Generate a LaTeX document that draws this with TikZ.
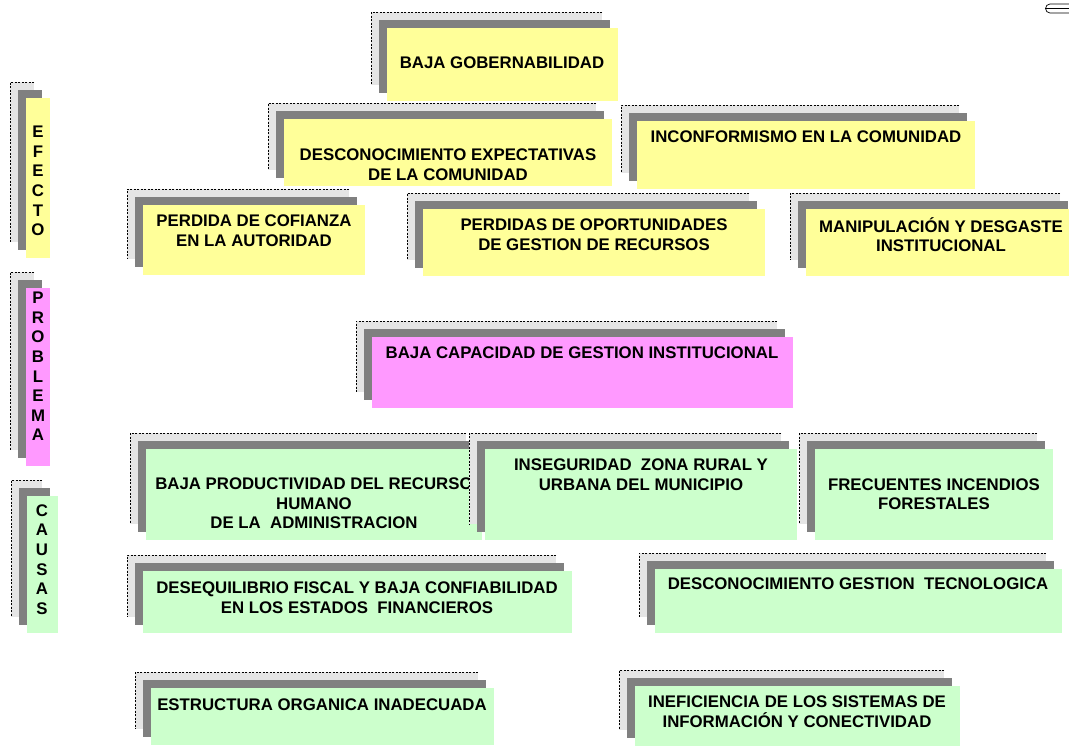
\documentclass[tikz,border=0pt]{standalone}
\usepackage{fontspec}
\setmainfont{Liberation Sans}
\usepackage{tikz}
\definecolor{amarillo}{HTML}{FFFF99}
\definecolor{rosado}{HTML}{FF99FF}
\definecolor{verde}{HTML}{CCFFCC}
\definecolor{grisclaro}{HTML}{E5E5E5}
\definecolor{grisoscuro}{HTML}{808080}

\begin{document}
\begin{tikzpicture}[x=1pt,y=-1pt]
        \tikzstyle{every node}+=[inner sep=0pt, align=center, font=\fontsize{16.8}{19.5}\selectfont\bfseries]
        \tikzstyle{fondo}=[fill=grisclaro]
        \tikzstyle{punteado}=[draw=black, line width=0.8pt, dash pattern=on 2pt off 1.5pt]
        \tikzstyle{sombra}=[fill=grisoscuro]
        \tikzstyle{letras}=[font=\fontsize{16.8}{19.6}\selectfont\bfseries]
        \useasboundingbox (0,0) rectangle (1069,745);
        \clip (0,0) rectangle (1069,745);
        % efecto
        \fill [fondo] (371,12) rectangle +(231,73);
        \draw [punteado] (602,12) -| (371,85);
        \fill [sombra] (379,20) rectangle +(231,73);
        \fill [amarillo] (387,28) rectangle +(231,73);
        \node (gob) at (502,63) {BAJA GOBERNABILIDAD};
        \fill [fondo] (268,103) rectangle +(328,67);
        \draw [punteado] (596,103) -| (268,170);
        \fill [sombra] (276,111) rectangle +(328,67);
        \fill [amarillo] (284,119) rectangle +(328,67);
        \node (expect) at (448,164.5) {DESCONOCIMIENTO EXPECTATIVAS\\DE LA COMUNIDAD};
        \fill [fondo] (621,105) rectangle +(338,68);
        \draw [punteado] (959,105) -| (621,173);
        \fill [sombra] (629,113) rectangle +(338,68);
        \fill [amarillo] (637,121) rectangle +(338,68);
        \node (inconf) at (806,137) {INCONFORMISMO EN LA COMUNIDAD};
        \fill [fondo] (127,189) rectangle +(222,70);
        \draw [punteado] (349,189) -| (127,259);
        \fill [sombra] (135,197) rectangle +(222,70);
        \fill [amarillo] (143,205) rectangle +(222,70);
        \node (confianza) at (254,230.5) {PERDIDA DE COFIANZA\\EN LA AUTORIDAD};
        \fill [fondo] (407,193) rectangle +(342,67);
        \draw [punteado] (749,193) -| (407,260);
        \fill [sombra] (415,201) rectangle +(342,67);
        \fill [amarillo] (423,209) rectangle +(342,67);
        \node (oport) at (594,234.5) {PERDIDAS DE OPORTUNIDADES\\DE GESTION DE RECURSOS};
        \fill [fondo] (790,193) rectangle +(270,67);
        \draw [punteado] (1060,193) -| (790,260);
        \fill [sombra] (798,201) rectangle +(270,67);
        \fill [amarillo] (806,209) rectangle +(270,67);
        \node (manip) at (941,234.5) {MANIPULACIÓN Y DESGASTE\\INSTITUCIONAL};
        % problema
        \fill [fondo] (356,321) rectangle +(421,71);
        \draw [punteado] (777,321) -| (356,392);
        \fill [sombra] (364,329) rectangle +(421,71);
        \fill [rosado] (372,337) rectangle +(421,71);
        \node (capac) at (582,353) {BAJA CAPACIDAD DE GESTION INSTITUCIONAL};
        % causas
        \fill [fondo] (130,433) rectangle +(336,91);
        \draw [punteado] (466,433) -| (130,524);
        \fill [sombra] (138,441) rectangle +(336,91);
        \fill [verde] (146,449) rectangle +(336,91);
        \node (product) at (314,503.5) {BAJA PRODUCTIVIDAD DEL RECURSO\\HUMANO\\DE LA \ ADMINISTRACION};
        \fill [fondo] (469,433) rectangle +(312,91);
        \draw [punteado] (781,433) -| (469,524);
        \fill [sombra] (477,441) rectangle +(312,91);
        \fill [verde] (485,449) rectangle +(312,91);
        \node (insegur) at (641,474.5) {INSEGURIDAD \ ZONA RURAL Y\\URBANA DEL MUNICIPIO};
        \fill [fondo] (799,433) rectangle +(238,91);
        \draw [punteado] (1037,433) -| (799,524);
        \fill [sombra] (807,441) rectangle +(238,91);
        \fill [verde] (815,449) rectangle +(238,91);
        \node (incend) at (934,494) {FRECUENTES INCENDIOS\\FORESTALES};
        \fill [fondo] (127,555) rectangle +(429,62);
        \draw [punteado] (556,555) -| (127,617);
        \fill [sombra] (135,563) rectangle +(429,62);
        \fill [verde] (143,571) rectangle +(429,62);
        \node (fiscal) at (357,597.5) {DESEQUILIBRIO FISCAL Y BAJA CONFIABILIDAD\\EN LOS ESTADOS \ FINANCIEROS};
        \fill [fondo] (639,553) rectangle +(407,64);
        \draw [punteado] (1046,553) -| (639,617);
        \fill [sombra] (647,561) rectangle +(407,64);
        \fill [verde] (655,569) rectangle +(407,64);
        \node (tecno) at (858,584) {DESCONOCIMIENTO GESTION \ TECNOLOGICA};
        \fill [fondo] (135,672) rectangle +(343,57);
        \draw [punteado] (478,672) -| (135,729);
        \fill [sombra] (143,680) rectangle +(343,57);
        \fill [verde] (151,688) rectangle +(343,57);
        \node (estruct) at (322,705) {ESTRUCTURA ORGANICA INADECUADA};
        \fill [fondo] (619,670) rectangle +(325,60);
        \draw [punteado] (944,670) -| (619,730);
        \fill [sombra] (627,678) rectangle +(325,60);
        \fill [verde] (635,686) rectangle +(325,60);
        \node (sistemas) at (797,711.5) {INEFICIENCIA DE LOS SISTEMAS DE\\INFORMACIÓN Y CONECTIVIDAD};
        % rotulos laterales
        \fill [fondo] (10,82) rectangle +(24,160);
        \draw [punteado] (34,82) -| (10,242);
        \fill [sombra] (18,90) rectangle +(24,160);
        \fill [amarillo] (26,98) rectangle +(24,160);
        \node [letras] (efecto) at (38,181) {E\\F\\E\\C\\T\\O};
        \fill [fondo] (10,272) rectangle +(24,178);
        \draw [punteado] (34,272) -| (10,450);
        \fill [sombra] (18,280) rectangle +(24,178);
        \fill [rosado] (26,288) rectangle +(24,178);
        \node [letras] (problema) at (38,366.5) {P\\R\\O\\B\\L\\E\\M\\A};
        \fill [fondo] (11,480) rectangle +(31,137);
        \draw [punteado] (42,480) -| (11,617);
        \fill [sombra] (19,488) rectangle +(31,137);
        \fill [verde] (27,496) rectangle +(31,137);
        \node [letras] (causas) at (42,559.5) {C\\A\\U\\S\\A\\S};
        % marca
        \draw [black, line width=0.7pt] (1069,4) -- (1050,4) arc (270:90:4.5) -- (1069,13);
        \draw [black, line width=0.7pt] (1046,8.5) -- (1069,8.5);
\end{tikzpicture}
\end{document}
